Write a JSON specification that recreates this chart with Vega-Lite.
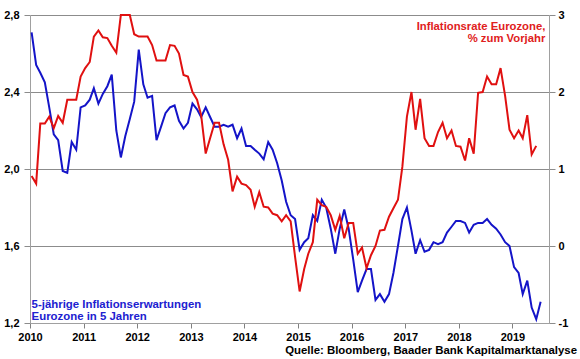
{
  "$schema": "https://vega.github.io/schema/vega-lite/v6.json",
  "width": 519,
  "height": 308,
  "autosize": {"type": "none"},
  "padding": {"left": 30, "top": 15, "right": 31, "bottom": 36},
  "background": "white",
  "config": {"view": {"stroke": null}, "font": "Liberation Sans"},
  "title": {
    "text": "Quelle: Bloomberg, Baader Bank Kapitalmarktanalyse",
    "orient": "bottom", "anchor": "end", "frame": "group",
    "font": "Liberation Sans", "fontSize": 11.4, "fontWeight": "bold", "color": "#000000",
    "offset": 3, "dx": 28
  },
  "data": {"values": [
    {"d":"2010-01-12","b":2.71,"r":0.91},{"d":"2010-02-12","b":2.54,"r":0.81},{"d":"2010-03-12","b":2.50,"r":1.59},{"d":"2010-04-12","b":2.45,"r":1.59},
    {"d":"2010-05-12","b":2.32,"r":1.68},{"d":"2010-06-12","b":2.18,"r":1.53},{"d":"2010-07-12","b":2.15,"r":1.69},{"d":"2010-08-12","b":1.99,"r":1.60},
    {"d":"2010-09-12","b":1.98,"r":1.90},{"d":"2010-10-12","b":2.14,"r":1.90},{"d":"2010-11-12","b":2.10,"r":1.90},{"d":"2010-12-12","b":2.32,"r":2.20},
    {"d":"2011-01-12","b":2.33,"r":2.31},{"d":"2011-02-12","b":2.36,"r":2.39},{"d":"2011-03-12","b":2.42,"r":2.72},{"d":"2011-04-12","b":2.34,"r":2.80},
    {"d":"2011-05-12","b":2.39,"r":2.71},{"d":"2011-06-12","b":2.43,"r":2.70},{"d":"2011-07-12","b":2.49,"r":2.60},{"d":"2011-08-12","b":2.20,"r":2.51},
    {"d":"2011-09-12","b":2.06,"r":3.00},{"d":"2011-10-12","b":2.17,"r":3.00},{"d":"2011-11-12","b":2.26,"r":3.00},{"d":"2011-12-12","b":2.35,"r":2.75},
    {"d":"2012-01-12","b":2.62,"r":2.72},{"d":"2012-02-12","b":2.44,"r":2.72},{"d":"2012-03-12","b":2.37,"r":2.72},{"d":"2012-04-12","b":2.38,"r":2.61},
    {"d":"2012-05-12","b":2.15,"r":2.41},{"d":"2012-06-12","b":2.22,"r":2.41},{"d":"2012-07-12","b":2.29,"r":2.41},{"d":"2012-08-12","b":2.32,"r":2.61},
    {"d":"2012-09-12","b":2.33,"r":2.60},{"d":"2012-10-12","b":2.25,"r":2.50},{"d":"2012-11-12","b":2.21,"r":2.22},{"d":"2012-12-12","b":2.24,"r":2.20},
    {"d":"2013-01-12","b":2.34,"r":2.00},{"d":"2013-02-12","b":2.31,"r":1.90},{"d":"2013-03-12","b":2.27,"r":1.70},{"d":"2013-04-12","b":2.32,"r":1.20},
    {"d":"2013-05-12","b":2.27,"r":1.40},{"d":"2013-06-12","b":2.22,"r":1.60},{"d":"2013-07-12","b":2.22,"r":1.60},{"d":"2013-08-12","b":2.23,"r":1.32},
    {"d":"2013-09-12","b":2.22,"r":1.12},{"d":"2013-10-12","b":2.23,"r":0.71},{"d":"2013-11-12","b":2.16,"r":0.90},{"d":"2013-12-12","b":2.21,"r":0.81},
    {"d":"2014-01-12","b":2.12,"r":0.79},{"d":"2014-02-12","b":2.12,"r":0.73},{"d":"2014-03-12","b":2.10,"r":0.51},{"d":"2014-04-12","b":2.08,"r":0.70},
    {"d":"2014-05-12","b":2.05,"r":0.51},{"d":"2014-06-12","b":2.14,"r":0.50},{"d":"2014-07-12","b":2.10,"r":0.42},{"d":"2014-08-12","b":2.03,"r":0.40},
    {"d":"2014-09-12","b":1.94,"r":0.32},{"d":"2014-10-12","b":1.83,"r":0.40},{"d":"2014-11-12","b":1.76,"r":0.32},{"d":"2014-12-12","b":1.74,"r":-0.14},
    {"d":"2015-01-12","b":1.58,"r":-0.59},{"d":"2015-02-12","b":1.62,"r":-0.30},{"d":"2015-03-12","b":1.64,"r":-0.10},{"d":"2015-04-12","b":1.76,"r":0.05},
    {"d":"2015-05-12","b":1.73,"r":0.60},{"d":"2015-06-12","b":1.84,"r":0.53},{"d":"2015-07-12","b":1.80,"r":0.51},{"d":"2015-08-12","b":1.69,"r":0.40},
    {"d":"2015-09-12","b":1.56,"r":0.21},{"d":"2015-10-12","b":1.69,"r":0.39},{"d":"2015-11-12","b":1.79,"r":0.10},{"d":"2015-12-12","b":1.69,"r":0.30},
    {"d":"2016-01-12","b":1.53,"r":0.30},{"d":"2016-02-12","b":1.36,"r":-0.10},{"d":"2016-03-12","b":1.42,"r":-0.02},{"d":"2016-04-12","b":1.48,"r":-0.29},
    {"d":"2016-05-12","b":1.48,"r":-0.12},{"d":"2016-06-12","b":1.32,"r":0.00},{"d":"2016-07-12","b":1.35,"r":0.20},{"d":"2016-08-12","b":1.31,"r":0.21},
    {"d":"2016-09-12","b":1.35,"r":0.38},{"d":"2016-10-12","b":1.46,"r":0.49},{"d":"2016-11-12","b":1.60,"r":0.60},{"d":"2016-12-12","b":1.74,"r":1.03},
    {"d":"2017-01-12","b":1.80,"r":1.68},{"d":"2017-02-12","b":1.68,"r":2.00},{"d":"2017-03-12","b":1.56,"r":1.51},{"d":"2017-04-12","b":1.63,"r":1.91},
    {"d":"2017-05-12","b":1.57,"r":1.40},{"d":"2017-06-12","b":1.58,"r":1.30},{"d":"2017-07-12","b":1.62,"r":1.30},{"d":"2017-08-12","b":1.61,"r":1.48},
    {"d":"2017-09-12","b":1.62,"r":1.60},{"d":"2017-10-12","b":1.67,"r":1.40},{"d":"2017-11-12","b":1.70,"r":1.50},{"d":"2017-12-12","b":1.73,"r":1.30},
    {"d":"2018-01-12","b":1.73,"r":1.29},{"d":"2018-02-12","b":1.72,"r":1.11},{"d":"2018-03-12","b":1.67,"r":1.40},{"d":"2018-04-12","b":1.71,"r":1.20},
    {"d":"2018-05-12","b":1.72,"r":1.99},{"d":"2018-06-12","b":1.72,"r":2.00},{"d":"2018-07-12","b":1.74,"r":2.20},{"d":"2018-08-12","b":1.71,"r":2.10},
    {"d":"2018-09-12","b":1.69,"r":2.10},{"d":"2018-10-12","b":1.66,"r":2.31},{"d":"2018-11-12","b":1.62,"r":1.95},{"d":"2018-12-12","b":1.60,"r":1.51},
    {"d":"2019-01-12","b":1.49,"r":1.40},{"d":"2019-02-12","b":1.46,"r":1.50},{"d":"2019-03-12","b":1.35,"r":1.40},{"d":"2019-04-12","b":1.42,"r":1.70},
    {"d":"2019-05-12","b":1.28,"r":1.19},{"d":"2019-06-12","b":1.22,"r":1.30},{"d":"2019-07-12","b":1.31,"r":null}
  ]},
  "layer": [
    {
      "layer": [
        {
          "mark": {"type": "line", "color": "#1414c8", "strokeWidth": 2},
          "encoding": {
            "x": {
              "field": "d", "type": "temporal",
              "scale": {"type": "utc", "domain": [{"year": 2010, "month": 1, "date": 1, "utc": true}, {"year": 2019, "month": 9, "date": 7, "utc": true}]},
              "axis": {
                "title": null, "format": "%Y", "tickCount": "year", "grid": false,
                "domainColor": "#a0a0a0", "tickColor": "#808080", "tickSize": 5,
                "labelPadding": 3, "labelFont": "Liberation Sans", "labelFontSize": 11, "labelFontWeight": "bold",
                "labelColor": "#000000", "labelFlush": false, "labelOverlap": false
              }
            },
            "y": {
              "field": "b", "type": "quantitative",
              "scale": {"domain": [1.2, 2.8], "nice": false, "zero": false},
              "axis": {
                "title": null, "values": [1.2, 1.6, 2.0, 2.4, 2.8],
                "labelExpr": "replace(format(datum.value, '.1f'), '.', ',')",
                "grid": true, "gridColor": "#8c8c8c", "gridWidth": 1,
                "domainColor": "#a0a0a0", "tickColor": "#8c8c8c", "tickSize": 6,
                "labelPadding": 5, "labelFont": "Liberation Sans", "labelFontSize": 11, "labelFontWeight": "bold",
                "labelColor": "#000000", "labelFlush": false
              }
            }
          }
        },
        {
          "data": {"values": [{"t": ["5-jährige Inflationserwartungen", "Eurozone in 5 Jahren"]}]},
          "mark": {"type": "text", "align": "left", "baseline": "middle", "lineHeight": 12.5,
                   "font": "Liberation Sans", "fontSize": 11.4, "fontWeight": "bold", "color": "#2020d0"},
          "encoding": {
            "x": {"datum": {"year": 2010, "month": 1, "date": 12, "utc": true}, "type": "temporal"},
            "y": {"datum": 1.295, "type": "quantitative"},
            "text": {"field": "t"}
          }
        }
      ]
    },
    {
      "layer": [
        {
          "mark": {"type": "line", "color": "#e01010", "strokeWidth": 2},
          "encoding": {
            "x": {"field": "d", "type": "temporal"},
            "y": {
              "field": "r", "type": "quantitative",
              "scale": {"domain": [-1, 3], "nice": false, "zero": false},
              "axis": {
                "title": null, "orient": "right", "values": [-1, 0, 1, 2, 3],
                "labelExpr": "datum.value < 0 ? '-' + abs(datum.value) : '' + datum.value",
                "grid": false, "domainColor": "#a0a0a0", "tickColor": "#8c8c8c", "tickSize": 6,
                "labelPadding": 3, "labelFont": "Liberation Sans", "labelFontSize": 11, "labelFontWeight": "bold",
                "labelColor": "#000000", "labelFlush": false
              }
            }
          }
        },
        {
          "data": {"values": [{"t": ["Inflationsrate Eurozone,", "% zum Vorjahr"]}]},
          "mark": {"type": "text", "align": "right", "baseline": "middle", "lineHeight": 12.5,
                   "font": "Liberation Sans", "fontSize": 11.3, "fontWeight": "bold", "color": "#e02020"},
          "encoding": {
            "x": {"datum": {"year": 2019, "month": 8, "date": 13, "utc": true}, "type": "temporal"},
            "y": {"datum": 2.85, "type": "quantitative"},
            "text": {"field": "t"}
          }
        }
      ]
    }
  ],
  "resolve": {"scale": {"y": "independent"}}
}
